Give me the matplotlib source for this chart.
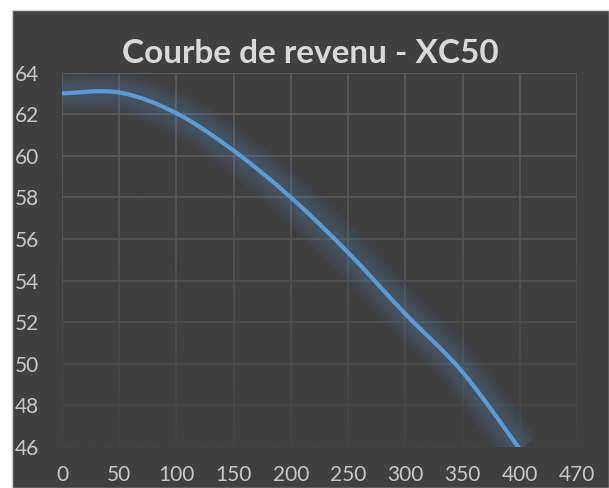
import numpy as np
import matplotlib
matplotlib.use("Agg")
import matplotlib.pyplot as plt
from matplotlib.path import Path
from matplotlib.patches import PathPatch, Rectangle

# data
x_labels = ["0", "50", "100", "150", "200", "250", "300", "350", "400", "470"]
revenue = [63.0, 63.05, 62.05, 60.25, 58.0, 55.35, 52.4, 49.6, 45.9]
y_ticks = [46, 48, 50, 52, 54, 56, 58, 60, 62, 64]
title = "Courbe de revenu - XC50"

bg = "#404040"
grid_col = "#5a5a5a"
line_col = "#5B9BD5"
text_col = "#C8C8C8"

plt.rcParams["font.family"] = ["Lato", "DejaVu Sans"]

W, H = 609, 488
fig = plt.figure(figsize=(W / 100, H / 100), dpi=100, facecolor="white")
fig.patches.append(Rectangle((12 / W, 0), 1 - 12 / W, 1 - 10 / H, transform=fig.transFigure,
                             facecolor=bg, edgecolor="#D0D0D0", linewidth=1, zorder=-5))

left, right, top, bottom = 62, 577, 72.7, 447
ax = fig.add_axes([left / W, 1 - bottom / H, (right - left) / W, (bottom - top) / H])
ax.set_facecolor("none")
for s in ax.spines.values():
    s.set_visible(False)

n = len(x_labels)
ax.set_xlim(0, n - 1)
ax.set_ylim(46, 64)
ax.set_xticks(range(n))
ax.set_xticklabels(x_labels)
ax.set_yticks(y_ticks)
ax.grid(True, color=grid_col, linewidth=1.3, zorder=0)
ax.set_axisbelow(True)
ax.tick_params(length=0, labelsize=15, labelcolor=text_col)
ax.tick_params(axis="y", pad=34)
ax.tick_params(axis="x", pad=13)
for lab in ax.get_yticklabels():
    lab.set_horizontalalignment("left")

# gridlines fade towards the bottom
yy = np.linspace(64, 46, 200)
alpha = np.clip((60 - yy) / 14, 0, 1) * 0.85
rgb = np.array(matplotlib.colors.to_rgb(bg))
grad = np.zeros((200, 1, 4))
grad[:, 0, :3] = rgb
grad[:, 0, 3] = alpha
ax.imshow(grad, extent=[0, n - 1, 46, 64], aspect="auto", zorder=1, interpolation="bilinear")

# smoothed line (Catmull-Rom as Bezier, like Excel smoothing)
pts = np.column_stack([np.arange(len(revenue)), revenue]).astype(float)
verts = [pts[0]]
codes = [Path.MOVETO]
for i in range(len(pts) - 1):
    p0 = pts[max(i - 1, 0)]
    p1 = pts[i]
    p2 = pts[i + 1]
    p3 = pts[min(i + 2, len(pts) - 1)]
    verts += [p1 + (p2 - p0) / 6, p2 - (p3 - p1) / 6, p2]
    codes += [Path.CURVE4] * 3
path = Path(verts, codes)

# soft glow
for lw in [30, 26, 22, 18, 14, 10]:
    ax.add_patch(PathPatch(path, facecolor="none", edgecolor=line_col, linewidth=lw,
                           alpha=0.045, capstyle="butt", joinstyle="round", zorder=2))
ax.add_patch(PathPatch(path, facecolor="none", edgecolor=line_col, linewidth=3,
                       capstyle="round", joinstyle="round", zorder=3))

fig.text((12 + W) / 2 / W, 1 - 63 / H, title, ha="center", va="baseline",
         fontsize=24, fontweight="bold", color="#D9D9D9")

fig.savefig("out.png", dpi=100, facecolor="white")
